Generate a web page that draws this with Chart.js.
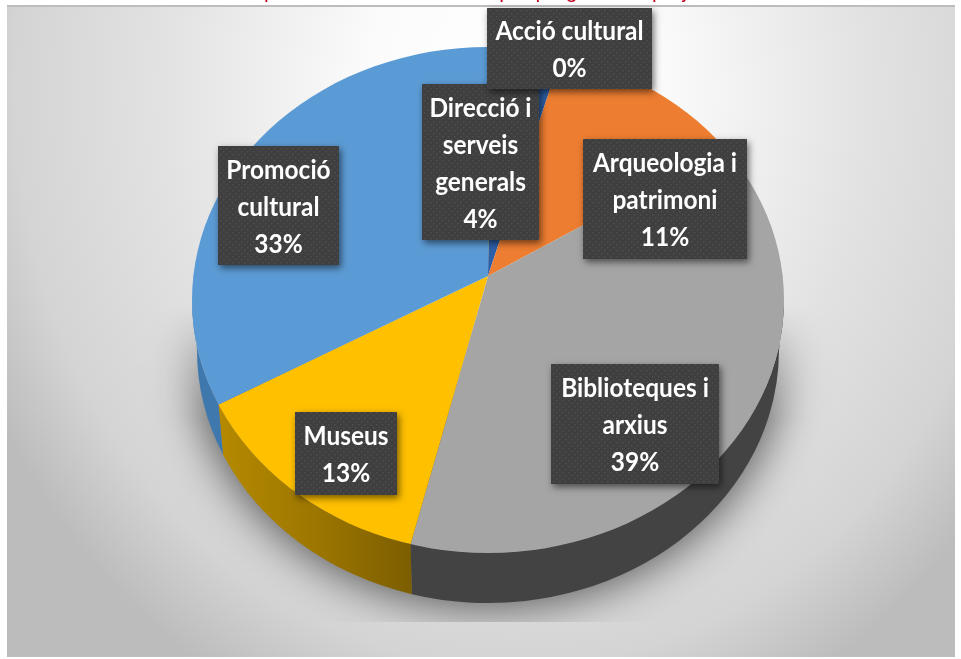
<!DOCTYPE html>
<html><head><meta charset="utf-8">
<style>html,body{margin:0;padding:0;background:#fff}canvas{display:block}</style>
<script src="https://cdn.jsdelivr.net/npm/chart.js@4"></script>
</head><body>
<div style="width:961px;height:659px"><canvas id="c" width="961" height="659"></canvas></div>
<script>
const categories = ["Acció cultural","Direcció i serveis generals","Arqueologia i patrimoni","Biblioteques i arxius","Museus","Promoció cultural"];
const values = [0.2,3.8,11.4,38.8,13.3,32.5];
const sliceColors = ["#70ad47","#2d5fa8","#ed7d31","#a5a5a5","#ffc000","#5b9bd5"];
const wallColors = ["#4d7a30","#203f70","#b05a20","#434343","#8f6c00","#3f78ad"];
const labelLines = [["Acció cultural"],["Direcció i","serveis","generals"],["Arqueologia i","patrimoni"],["Biblioteques i","arxius"],["Museus"],["Promoció","cultural"]];
const labelBoxes = [[487,8,165,81],[422,84,117,156],[583,139,164,120],[551,364,168,120],[295,412,102,83],[218,146,121,119]];
const titleText = "Despesa de l'àrea de cultura per programes i projectes";

// tip of the pie, seam mapping, true rim ellipse, bottom rim ellipse
const G = {cx:488, tipY:276, rx:296, ryTop:229, ryBot:277, rimY:300, rimRy:253, botY:350, botRx:291};

function dotPattern(ctx){
  const p=document.createElement('canvas');p.width=6;p.height=6;
  const x=p.getContext('2d');
  x.fillStyle='#3f3f3f';x.fillRect(0,0,6,6);
  x.fillStyle='#4e4e4e';x.fillRect(1,1,1.5,1.5);x.fillRect(4,4,1.5,1.5);
  return ctx.createPattern(p,'repeat');
}
function drawBackground(ctx){
  ctx.fillStyle='#fff';ctx.fillRect(0,0,961,659);
  ctx.fillStyle='#bdbdbd';ctx.fillRect(7,5,948,3);
  ctx.save();
  ctx.beginPath();ctx.rect(7,7,948,650);ctx.clip();
  ctx.translate(515,90);ctx.scale(1,1.15);
  const g=ctx.createRadialGradient(0,0,0,0,0,590);
  g.addColorStop(0,'#ffffff');g.addColorStop(0.25,'#fbfbfb');g.addColorStop(0.6,'#e2e2e2');g.addColorStop(0.85,'#d4d4d4');g.addColorStop(1,'#bcbcbc');
  ctx.fillStyle=g;ctx.fillRect(-600,-100,1200,600);
  ctx.restore();
}
function drawShadow(ctx){
  const o=document.createElement('canvas');o.width=961;o.height=659;
  const x=o.getContext('2d');
  x.save();
  x.beginPath();x.rect(0,0,961,622);x.clip();
  x.shadowColor='rgba(0,0,0,0.62)';x.shadowBlur=46;x.shadowOffsetX=-3000;
  x.fillStyle='#000';
  x.beginPath();x.ellipse(G.cx+3000,G.botY,G.botRx+4,G.rimRy+4,0,0,Math.PI*2);x.fill();
  x.restore();
  x.globalCompositeOperation='destination-in';
  const m=x.createLinearGradient(0,305,0,420);
  m.addColorStop(0,'rgba(0,0,0,0)');m.addColorStop(1,'rgba(0,0,0,1)');
  x.fillStyle=m;x.fillRect(0,0,961,659);
  ctx.drawImage(o,0,0);
}
// where a seam leaving the tip meets the rim ellipse, as an ellipse parameter
function rimParam(a){
  const dx=G.rx*Math.cos(a), dy=(Math.sin(a)>=0?G.ryBot:G.ryTop)*Math.sin(a);
  const ux=dx/G.rx, uy=dy/G.rimRy, off=(G.tipY-G.rimY)/G.rimRy;
  const A=ux*ux+uy*uy, B=2*uy*off, C=off*off-1;
  const t=(-B+Math.sqrt(B*B-4*A*C))/(2*A);
  return Math.atan2(t*uy+off,t*ux);
}
function drawWalls(ctx,arcs){
  arcs.forEach((a,i)=>{
    let s=a.startAngle,e=a.endAngle;
    s=s<=0?0:(s>=Math.PI?Math.PI:rimParam(s));
    e=e>=Math.PI?Math.PI:(e<=0?0:rimParam(e));
    if(e<=s) return;
    ctx.beginPath();
    ctx.ellipse(G.cx,G.rimY,G.rx,G.rimRy,0,s,e);
    ctx.ellipse(G.cx,G.botY,G.botRx,G.rimRy,0,e,s,true);
    ctx.closePath();
    if(i===4){
      const g=ctx.createLinearGradient(G.cx+G.rx*Math.cos(e),0,G.cx+G.rx*Math.cos(s),0);
      g.addColorStop(0,'#b58a00');g.addColorStop(0.55,'#9a7400');g.addColorStop(1,'#7c5e00');
      ctx.fillStyle=g;
    } else ctx.fillStyle=wallColors[i];
    ctx.fill();
  });
}
function drawHalf(ctx,arcs,top){
  const a0=arcs[0],R=a0.outerRadius,over=1.2;
  ctx.save();
  ctx.beginPath();ctx.ellipse(G.cx,G.rimY,G.rx,G.rimRy,0,0,Math.PI*2);ctx.clip();
  ctx.beginPath();
  if(top) ctx.rect(0,0,961,G.tipY+0.5); else ctx.rect(0,G.tipY-0.5,961,659);
  ctx.clip();
  ctx.translate(G.cx,G.tipY);
  ctx.scale(over*G.rx/R,over*(top?G.ryTop:G.ryBot)/R);
  ctx.translate(-a0.x,-a0.y);
  arcs.forEach(a=>a.draw(ctx));
  ctx.restore();
}
function drawLabels(ctx){
  const pat=dotPattern(ctx),lh=37;
  for(let i=categories.length-1;i>=0;i--){
    const [x,y,w,h]=labelBoxes[i];
    ctx.save();
    ctx.shadowColor='rgba(0,0,0,0.55)';ctx.shadowBlur=7;ctx.shadowOffsetX=2;ctx.shadowOffsetY=3;
    ctx.fillStyle='#404040';ctx.fillRect(x,y,w,h);
    ctx.restore();
    ctx.fillStyle=pat;ctx.fillRect(x,y,w,h);
    const lines=labelLines[i].concat([Math.round(values[i])+'%']);
    ctx.fillStyle='#fff';ctx.font='700 26px Lato';ctx.textAlign='center';ctx.textBaseline='middle';
    const y0=y+h/2+2-lh*(lines.length-1)/2;
    lines.forEach((t,k)=>ctx.fillText(t,x+w/2,y0+lh*k,ctx.measureText(t).width*0.94));
  }
}
const pie3d={
  id:'pie3d',
  beforeDraw(chart){drawBackground(chart.ctx);},
  beforeDatasetsDraw(chart){
    const ctx=chart.ctx,arcs=chart.getDatasetMeta(0).data;
    drawShadow(ctx);
    drawWalls(ctx,arcs);
    drawHalf(ctx,arcs,true);
    drawHalf(ctx,arcs,false);
    return false;
  },
  afterDraw(chart){
    const ctx=chart.ctx;
    drawLabels(ctx);
    ctx.fillStyle='#c00020';ctx.font='21px "Liberation Sans"';ctx.textAlign='center';ctx.textBaseline='alphabetic';
    ctx.fillText(titleText,482,-2);
  }
};
new Chart(document.getElementById('c'),{
  type:'pie',
  data:{labels:categories,datasets:[{data:values,backgroundColor:sliceColors,borderWidth:0}]},
  options:{responsive:false,animation:false,plugins:{legend:{display:false},tooltip:{enabled:false},title:{display:false}}},
  plugins:[pie3d]
});
</script>
</body></html>
